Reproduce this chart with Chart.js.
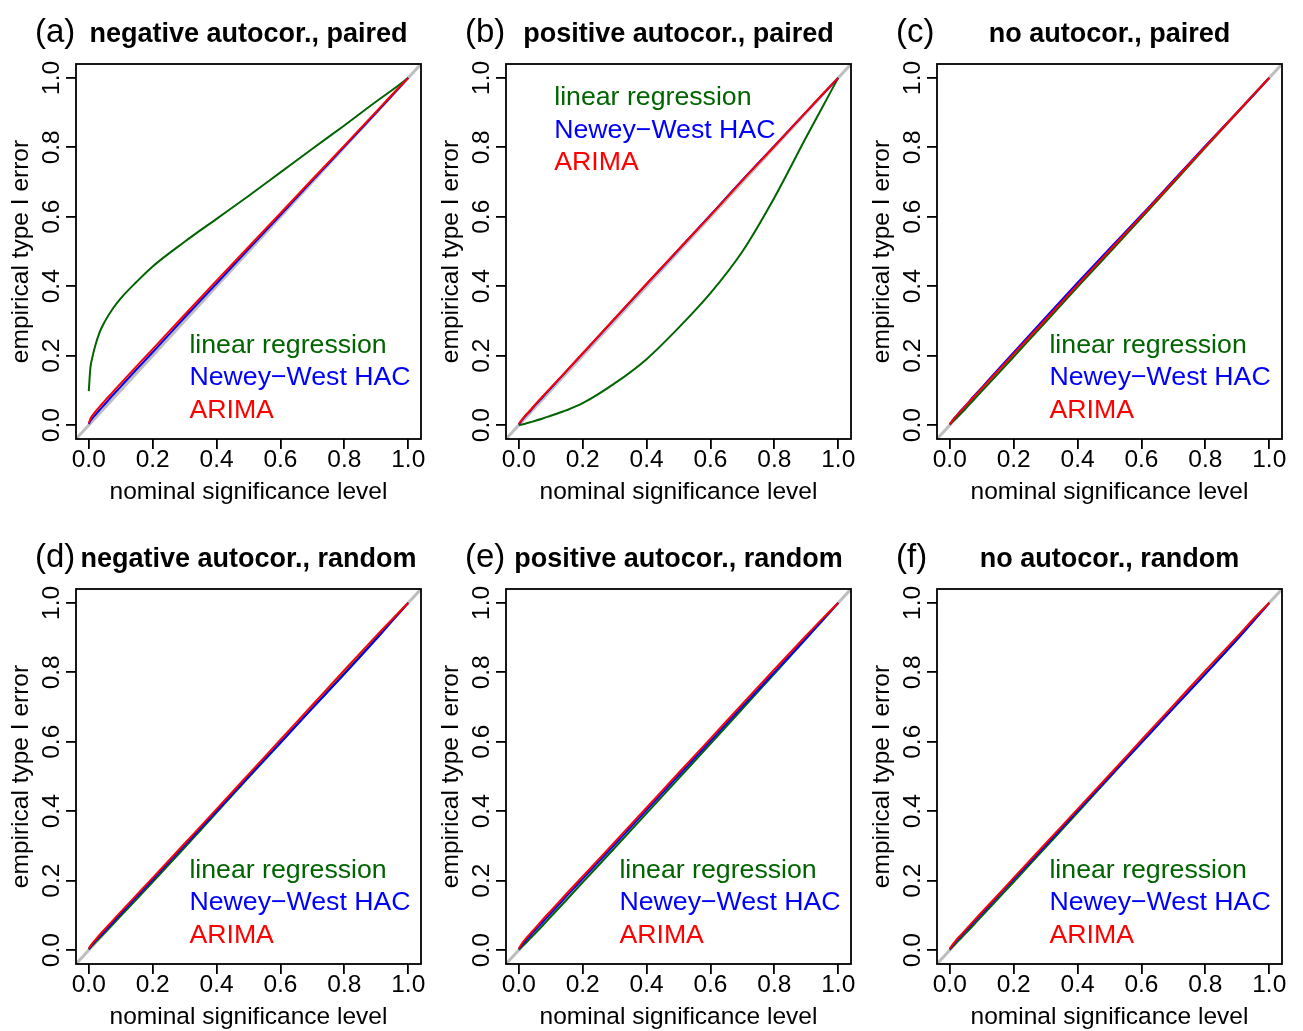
<!DOCTYPE html>
<html>
<head>
<meta charset="utf-8">
<script src="https://cdn.jsdelivr.net/npm/chart.js@4.4.1/dist/chart.umd.min.js"></script>
<style>
  body { margin: 0; background: #fff; }
  #wrap { position: relative; width: 1303px; height: 1031px; overflow: hidden; }
  canvas { position: absolute; }
</style>
</head>
<body>
<div id="wrap"></div>
<script>
// nominal significance level (shared x values)
var nominal = [0, 0.005, 0.01, 0.02, 0.035, 0.05, 0.075, 0.1, 0.15, 0.2, 0.3, 0.4, 0.5, 0.6, 0.7, 0.8, 0.9, 0.95, 1.0];

// (a) negative autocor., paired
var aLinReg = [0.098, 0.165, 0.19, 0.228, 0.27, 0.298, 0.335, 0.365, 0.413, 0.457, 0.528, 0.594, 0.66, 0.728, 0.796, 0.863, 0.932, 0.965, 1.0];
var aNewey  = [0.003, 0.012, 0.018, 0.029, 0.045, 0.06, 0.086, 0.111, 0.161, 0.21, 0.31, 0.408, 0.507, 0.605, 0.704, 0.802, 0.9, 0.95, 1.0];
var aArima  = [0.005, 0.018, 0.026, 0.038, 0.054, 0.07, 0.095, 0.12, 0.17, 0.219, 0.318, 0.416, 0.513, 0.61, 0.708, 0.805, 0.903, 0.952, 1.0];
// (b) positive autocor., paired
var bLinReg = [0, 0.001, 0.002, 0.004, 0.008, 0.012, 0.019, 0.027, 0.043, 0.063, 0.12, 0.19, 0.28, 0.38, 0.5, 0.655, 0.83, 0.915, 1.0];
var bNewey  = [0.002, 0.008, 0.014, 0.025, 0.04, 0.056, 0.081, 0.106, 0.156, 0.206, 0.306, 0.406, 0.505, 0.605, 0.706, 0.804, 0.902, 0.951, 1.0];
var bArima  = [0.003, 0.01, 0.016, 0.027, 0.042, 0.058, 0.083, 0.108, 0.157, 0.207, 0.307, 0.407, 0.506, 0.604, 0.705, 0.803, 0.903, 0.952, 1.0];
// (c) no autocor., paired
var cLinReg = [0.001, 0.006, 0.011, 0.02, 0.034, 0.048, 0.073, 0.098, 0.147, 0.197, 0.297, 0.398, 0.497, 0.597, 0.698, 0.8, 0.9, 0.95, 1.0];
var cNewey  = [0.003, 0.009, 0.015, 0.026, 0.042, 0.057, 0.083, 0.108, 0.159, 0.209, 0.31, 0.41, 0.508, 0.605, 0.705, 0.804, 0.901, 0.95, 1.0];
var cArima  = [0.003, 0.009, 0.015, 0.026, 0.041, 0.056, 0.081, 0.106, 0.155, 0.205, 0.304, 0.404, 0.503, 0.602, 0.702, 0.802, 0.901, 0.951, 1.0];
// (d) negative autocor., random
var dLinReg = [0.002, 0.007, 0.012, 0.022, 0.036, 0.05, 0.074, 0.099, 0.147, 0.196, 0.295, 0.396, 0.497, 0.596, 0.697, 0.797, 0.898, 0.949, 1.0];
var dNewey  = [0.003, 0.009, 0.015, 0.026, 0.041, 0.055, 0.08, 0.105, 0.154, 0.203, 0.302, 0.4, 0.5, 0.598, 0.697, 0.795, 0.896, 0.948, 1.0];
var dArima  = [0.004, 0.012, 0.018, 0.029, 0.045, 0.06, 0.085, 0.11, 0.159, 0.208, 0.307, 0.406, 0.506, 0.606, 0.706, 0.806, 0.905, 0.953, 1.0];
// (e) positive autocor., random
var eLinReg = [0.001, 0.005, 0.01, 0.019, 0.033, 0.047, 0.071, 0.096, 0.145, 0.195, 0.294, 0.394, 0.494, 0.594, 0.695, 0.796, 0.897, 0.948, 1.0];
var eNewey  = [0.003, 0.009, 0.015, 0.026, 0.041, 0.056, 0.081, 0.106, 0.156, 0.205, 0.304, 0.403, 0.503, 0.602, 0.702, 0.8, 0.899, 0.95, 1.0];
var eArima  = [0.004, 0.012, 0.019, 0.031, 0.047, 0.062, 0.088, 0.113, 0.163, 0.212, 0.311, 0.41, 0.51, 0.609, 0.709, 0.808, 0.906, 0.954, 1.0];
// (f) no autocor., random
var fLinReg = [0.001, 0.006, 0.011, 0.021, 0.035, 0.049, 0.073, 0.098, 0.147, 0.196, 0.296, 0.396, 0.497, 0.597, 0.697, 0.796, 0.896, 0.948, 1.0];
var fNewey  = [0.003, 0.009, 0.015, 0.026, 0.041, 0.056, 0.081, 0.105, 0.155, 0.204, 0.302, 0.401, 0.5, 0.598, 0.697, 0.795, 0.895, 0.947, 1.0];
var fArima  = [0.004, 0.011, 0.017, 0.029, 0.044, 0.059, 0.084, 0.109, 0.158, 0.208, 0.307, 0.406, 0.505, 0.605, 0.705, 0.805, 0.903, 0.953, 1.0];

var panelLetters = ['(a)', '(b)', '(c)', '(d)', '(e)', '(f)'];
var panelTitles = ['negative autocor., paired', 'positive autocor., paired', 'no autocor., paired',
                   'negative autocor., random', 'positive autocor., random', 'no autocor., random'];
var methodNames = ['linear regression', 'Newey\u2212West HAC', 'ARIMA'];
var axisTicks = [0, 0.2, 0.4, 0.6, 0.8, 1.0];
var refLine = [-0.04, 1.04];

var FONT = '"Liberation Sans", Arial, Helvetica, sans-serif';
var colors = ['#006400', '#0000ff', '#ff0000'];

var decor = {
    id: 'decor',
    afterDraw: function (chart) {
        var ctx = chart.ctx;
        var a = chart.chartArea;
        var o = chart.options.plugins.decor;
        ctx.save();
        ctx.strokeStyle = '#000';
        ctx.lineWidth = 1.8;
        ctx.strokeRect(a.left, a.top, a.right - a.left, a.bottom - a.top);

        // panel letter and bold title
        ctx.fillStyle = '#000';
        ctx.textBaseline = 'alphabetic';
        ctx.textAlign = 'left';
        ctx.font = '33px ' + FONT;
        ctx.fillText(o.letter, a.left - 41, a.top - 22);
        ctx.textAlign = 'center';
        ctx.font = 'bold 27px ' + FONT;
        ctx.fillText(o.title, (a.left + a.right) / 2, a.top - 22);

        // text legend inside the plot
        var lx = chart.scales.x.getPixelForValue(o.legendAt[0]);
        var ly = chart.scales.y.getPixelForValue(o.legendAt[1]);
        ctx.textAlign = 'left';
        ctx.textBaseline = 'middle';
        ctx.font = '26.7px ' + FONT;
        var row = 0;
        chart.data.datasets.forEach(function (ds) {
            if (!ds.showText) return;
            ctx.fillStyle = ds.borderColor;
            ctx.fillText(ds.label, lx, ly + row * 32.5);
            row++;
        });
        ctx.restore();
    }
};

function toPoints(ys) {
    return nominal.map(function (x, i) { return {x: x, y: ys[i]}; });
}

function makePanel(i, left, top, series, legendAt) {
    var canvas = document.createElement('canvas');
    canvas.width = 430;
    canvas.height = 515;
    canvas.style.left = left + 'px';
    canvas.style.top = top + 'px';
    document.getElementById('wrap').appendChild(canvas);

    var datasets = [{
        label: 'reference',
        data: refLine.map(function (v) { return {x: v, y: v}; }),
        borderColor: '#bebebe',
        borderWidth: 3,
        order: 4
    }];
    series.forEach(function (s, k) {
        datasets.push({
            label: methodNames[k],
            showText: true,
            data: toPoints(s),
            borderColor: colors[k],
            borderWidth: 2,
            cubicInterpolationMode: 'monotone',
            order: 3 - k
        });
    });

    var tickFont = {family: FONT, size: 24.5};

    new Chart(canvas, {
        type: 'line',
        data: {datasets: datasets},
        options: {
            responsive: false,
            animation: false,
            devicePixelRatio: 1,
            layout: {padding: {left: 0, right: 9, top: 64, bottom: 8}},
            elements: {point: {radius: 0}, line: {tension: 0}},
            plugins: {
                legend: {display: false},
                tooltip: {enabled: false},
                decor: {letter: panelLetters[i], title: panelTitles[i], legendAt: legendAt}
            },
            scales: {
                x: {
                    type: 'linear', min: -0.04, max: 1.04,
                    afterBuildTicks: function (s) { s.ticks = axisTicks.map(function (v) { return {value: v}; }); },
                    afterFit: function (s) { s.height = 68; },
                    grid: {drawOnChartArea: false, tickLength: 10, color: '#000', lineWidth: 1.8},
                    border: {display: false},
                    ticks: {
                        font: tickFont, color: '#000', padding: -3, maxRotation: 0, autoSkip: false,
                        callback: function (v) { return v.toFixed(1); }
                    },
                    title: {display: true, text: 'nominal significance level', font: tickFont, color: '#000', padding: 0}
                },
                y: {
                    type: 'linear', min: -0.04, max: 1.04,
                    afterBuildTicks: function (s) { s.ticks = axisTicks.map(function (v) { return {value: v}; }); },
                    afterFit: function (s) { s.width = 76; },
                    grid: {drawOnChartArea: false, tickLength: 10, color: '#000', lineWidth: 1.8},
                    border: {display: false},
                    ticks: {
                        font: tickFont, color: '#000', padding: -3, minRotation: 90, maxRotation: 90,
                        crossAlign: 'center', autoSkip: false,
                        callback: function (v) { return v.toFixed(1); }
                    },
                    title: {display: true, text: 'empirical type I error', font: tickFont, color: '#000', padding: {top: 6.6, bottom: 0}}
                }
            }
        },
        plugins: [decor]
    });
}

makePanel(0, 0, 0, [aLinReg, aNewey, aArima], [0.315, 0.229]);
makePanel(1, 430, 0, [bLinReg, bNewey, bArima], [0.111, 0.942]);
makePanel(2, 861, 0, [cLinReg, cNewey, cArima], [0.312, 0.229]);
makePanel(3, 0, 525, [dLinReg, dNewey, dArima], [0.315, 0.229]);
makePanel(4, 430, 525, [eLinReg, eNewey, eArima], [0.315, 0.229]);
makePanel(5, 861, 525, [fLinReg, fNewey, fArima], [0.312, 0.229]);
</script>
</body>
</html>
